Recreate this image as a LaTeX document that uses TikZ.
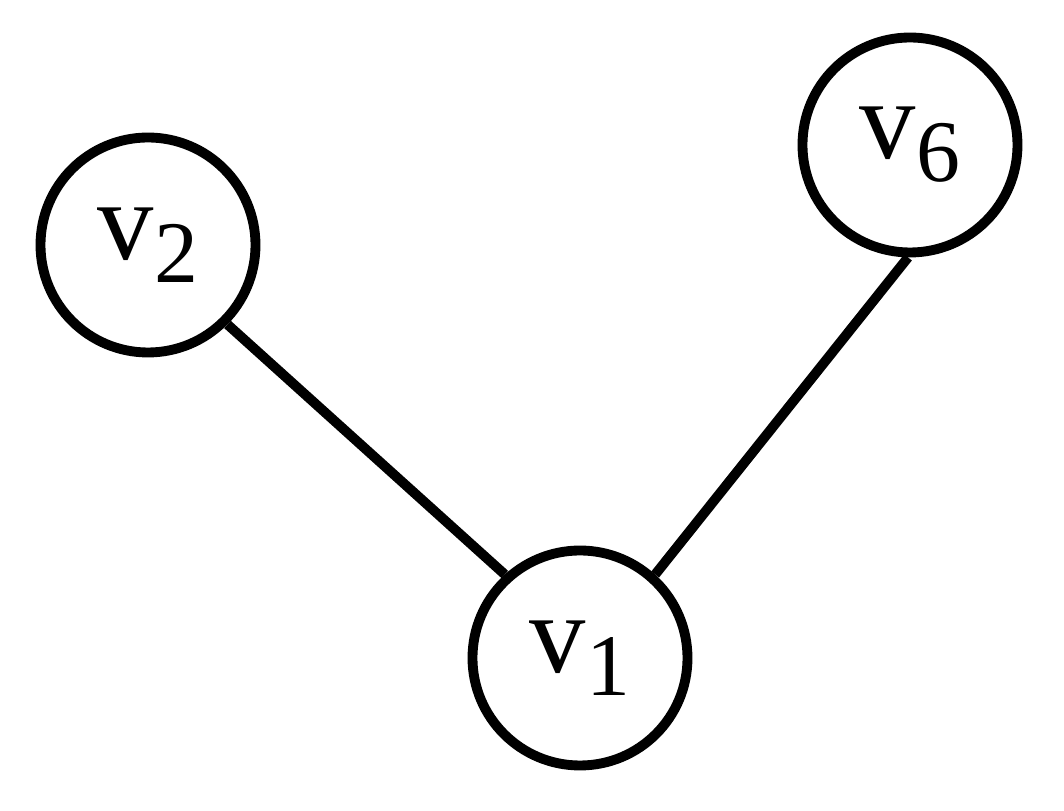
\documentclass[tikz,border=0pt]{standalone}
\usepackage{fontspec}
\setmainfont{Liberation Serif}
\usetikzlibrary{positioning}
\newcommand{\vsub}[1]{v\raisebox{-0.45ex}{\fontsize{25}{25}\selectfont #1}}
\begin{document}
\begin{tikzpicture}[
    vertex/.style={circle, draw=black, line width=2.8pt, minimum size=2.15cm,
                   inner sep=0pt, font=\fontsize{32}{32}\selectfont},
    edge/.style={line width=2.8pt, black}
]
\useasboundingbox (0,0) rectangle (10.64,8.11);

% vertices
\node[vertex] (v1) at (5.80,1.53) {\vsub{1}};
\node[vertex] (v2) at (1.48,5.66) {\vsub{2}};
\node[vertex] (v6) at (9.10,6.66) {\vsub{6}};

% edges
\draw[edge] (v2.-45) -- (v1.132);
\draw[edge] (v6.269) -- (v1.48);

\end{tikzpicture}
\end{document}
